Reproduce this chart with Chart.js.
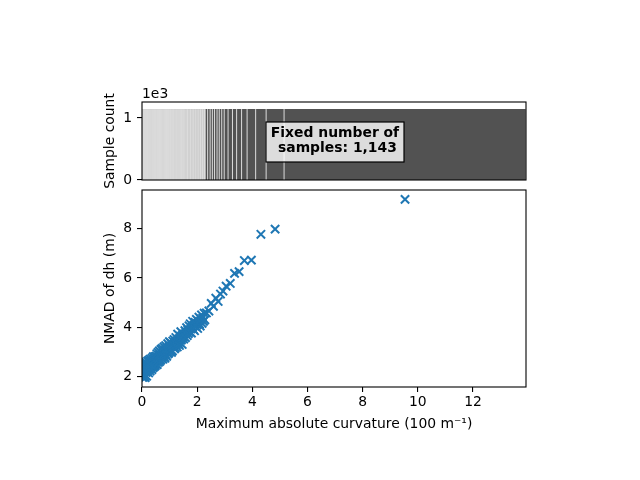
<!DOCTYPE html>
<html>
<head>
<meta charset="utf-8">
<script src="https://cdn.jsdelivr.net/npm/chart.js@4.4.0/dist/chart.umd.min.js"></script>
<style>
  html, body { margin: 0; padding: 0; background: #fff; }
  .panel { position: absolute; left: 0; top: 0; width: 640px; height: 480px; }
</style>
</head>
<body>
<div class="panel"><canvas id="countChart" width="640" height="480"></canvas></div>
<div class="panel"><canvas id="nmadChart" width="640" height="480"></canvas></div>
<script>
// bin edges of maximum absolute curvature (100 m-1), fixed-count binning
const binEdges = [
  0, 0.008, 0.017, 0.025, 0.034, 0.043, 0.051, 0.060, 0.069, 0.077,
  0.086, 0.095, 0.104, 0.112, 0.121, 0.130, 0.139, 0.147, 0.156, 0.165,
  0.174, 0.183, 0.192, 0.200, 0.209, 0.218, 0.227, 0.236, 0.245, 0.254,
  0.263, 0.272, 0.281, 0.290, 0.299, 0.308, 0.317, 0.326, 0.335, 0.344,
  0.353, 0.362, 0.371, 0.380, 0.389, 0.398, 0.407, 0.416, 0.425, 0.434,
  0.443, 0.452, 0.461, 0.470, 0.480, 0.490, 0.500,
  0.511, 0.522, 0.533, 0.544, 0.556, 0.567, 0.578, 0.590, 0.601, 0.613,
  0.624, 0.636, 0.647, 0.659, 0.671, 0.682, 0.694, 0.706, 0.718, 0.730,
  0.742, 0.754, 0.766, 0.778, 0.790, 0.802, 0.814, 0.827, 0.839, 0.851,
  0.864, 0.876, 0.889, 0.901, 0.914, 0.926, 0.939, 0.952, 0.964, 0.977,
  0.989, 1.002,
  1.017, 1.032, 1.047, 1.063, 1.078, 1.094, 1.109, 1.125, 1.141, 1.156,
  1.172, 1.188, 1.204, 1.220, 1.236, 1.252, 1.268, 1.284, 1.300, 1.317,
  1.333, 1.349, 1.366, 1.382, 1.399, 1.415, 1.432, 1.449, 1.466, 1.483,
  1.502,
  1.523, 1.544, 1.565, 1.586, 1.607, 1.628, 1.650, 1.671, 1.693, 1.715,
  1.737, 1.759, 1.781, 1.803, 1.825, 1.847, 1.870, 1.892, 1.915, 1.937,
  1.960, 1.983, 2.006, 2.029, 2.052, 2.075, 2.098, 2.122, 2.145, 2.169,
  2.193, 2.217, 2.241, 2.265, 2.29,
  2.38, 2.47, 2.55, 2.63, 2.72, 2.80, 2.89, 2.98, 3.12, 3.28,
  3.43, 3.61, 3.81, 4.12, 4.50, 5.15, 13.92
];

// samples per bin (fixed number)
const binCounts = [
  1143, 1143, 1143, 1143, 1143, 1143, 1143, 1143, 1143, 1143,
  1143, 1143, 1143, 1143, 1143, 1143, 1143, 1143, 1143, 1143,
  1143, 1143, 1143, 1143, 1143, 1143, 1143, 1143, 1143, 1143,
  1143, 1143, 1143, 1143, 1143, 1143, 1143, 1143, 1143, 1143,
  1143, 1143, 1143, 1143, 1143, 1143, 1143, 1143, 1143, 1143,
  1143, 1143, 1143, 1143, 1143, 1143, 1143, 1143, 1143, 1143,
  1143, 1143, 1143, 1143, 1143, 1143, 1143, 1143, 1143, 1143,
  1143, 1143, 1143, 1143, 1143, 1143, 1143, 1143, 1143, 1143,
  1143, 1143, 1143, 1143, 1143, 1143, 1143, 1143, 1143, 1143,
  1143, 1143, 1143, 1143, 1143, 1143, 1143, 1143, 1143, 1143,
  1143, 1143, 1143, 1143, 1143, 1143, 1143, 1143, 1143, 1143,
  1143, 1143, 1143, 1143, 1143, 1143, 1143, 1143, 1143, 1143,
  1143, 1143, 1143, 1143, 1143, 1143, 1143, 1143, 1143, 1143,
  1143, 1143, 1143, 1143, 1143, 1143, 1143, 1143, 1143, 1143,
  1143, 1143, 1143, 1143, 1143, 1143, 1143, 1143, 1143, 1143,
  1143, 1143, 1143, 1143, 1143, 1143, 1143, 1143, 1143, 1143,
  1143, 1143, 1143, 1143, 1143, 1143, 1143, 1143, 1143, 1143,
  1143, 1143, 1143, 1143, 1143, 1143, 1143, 1143, 1143, 1143,
  1143
];

// NMAD of dh (m) per bin
const nmadValues = [
  2.02, 2.28, 1.96, 2.41, 2.12, 2.50, 1.97, 2.35, 2.19, 2.55,
  2.00, 2.44, 2.24, 1.95, 2.36, 2.58, 2.16, 2.47, 2.29, 2.01,
  2.52, 2.33, 2.20, 2.62, 2.40, 2.26, 2.48, 2.14, 2.66, 2.37,
  2.30, 2.56, 2.43, 2.22, 2.70, 2.46, 2.34, 2.60, 2.39, 2.51,
  2.28, 2.74, 2.49, 2.41, 2.64, 2.36, 2.80, 2.53, 2.45, 2.68,
  2.40, 2.59, 2.80, 2.50, 2.44, 2.72,
  2.52, 2.83, 2.60, 2.92, 2.48, 2.77, 2.66, 2.98, 2.57, 2.86,
  2.70, 3.04, 2.61, 2.90, 2.79, 2.66, 3.10, 2.85, 2.72, 2.95,
  3.14, 2.78, 2.70, 3.02, 2.89, 3.20, 2.80, 2.97, 2.74, 3.08,
  3.25, 2.88, 3.01, 2.82, 3.16, 3.00, 3.33, 2.92, 3.12, 2.96,
  3.22, 3.41,
  3.01, 3.22, 3.09, 3.35, 2.98, 3.28, 3.04, 3.44, 3.19, 3.31,
  3.50, 3.12, 3.37, 3.17, 3.58, 3.29, 3.45, 3.20, 3.72, 3.40,
  3.32, 3.53, 3.26, 3.37, 3.64, 3.82, 3.48, 3.56, 3.30, 3.69,
  3.60,
  3.52, 3.72, 3.86, 3.58, 3.79, 3.98, 3.66, 3.90, 3.74, 4.06,
  3.80, 4.14, 3.93, 3.76, 4.01, 4.24, 3.92, 4.09, 3.86, 4.20,
  4.03, 4.32, 4.10, 3.95, 4.24, 4.41, 4.13, 4.05, 4.33, 4.50,
  4.16, 4.38, 4.24, 4.57, 4.30,
  4.58, 4.66, 4.97, 4.85, 5.18, 5.05, 5.35, 5.47, 5.67, 5.78,
  6.19, 6.26, 6.71, 6.73, 7.78, 7.99, 9.20
];

const xTicks = [0, 2, 4, 6, 8, 10, 12];
const nmadTicks = [2, 4, 6, 8];
const countTicks = [0, 1000];

const X_MAX = 13.92;
const PLOT_WIDTH = 384;

Chart.defaults.font.family = "'DejaVu Sans', sans-serif";
Chart.defaults.font.size = 13.9;
Chart.defaults.color = "#000";

// full box around the plot area
const framePlugin = {
  id: "frame",
  afterDatasetsDraw(chart) {
    const { ctx, chartArea: a } = chart;
    ctx.save();
    ctx.strokeStyle = "#000";
    ctx.lineWidth = 1.1;
    ctx.strokeRect(a.left, a.top, a.right - a.left, a.bottom - a.top);
    ctx.restore();
  },
};

// "1e3" offset label and the fixed-count text box
const countNotes = {
  id: "countNotes",
  afterDraw(chart) {
    const { ctx, chartArea: a } = chart;
    ctx.save();
    ctx.font = "13.9px 'DejaVu Sans'";
    ctx.fillStyle = "#000";
    ctx.textAlign = "left";
    ctx.textBaseline = "alphabetic";
    ctx.fillText("1e3", a.left, a.top - 4);

    const cx = (a.left + a.right) / 2 + 1;
    const cy = (a.top + a.bottom) / 2 + 1;
    ctx.fillStyle = "rgba(255,255,255,0.8)";
    ctx.strokeStyle = "#000";
    ctx.lineWidth = 1.2;
    ctx.fillRect(cx - 69, cy - 20, 138, 40);
    ctx.strokeRect(cx - 69, cy - 20, 138, 40);
    ctx.fillStyle = "#000";
    ctx.font = "bold 13.9px 'DejaVu Sans'";
    ctx.textAlign = "center";
    ctx.fillText("Fixed number of", cx, cy - 5);
    ctx.fillText(" samples: 1,143", cx, cy + 10);
    ctx.restore();
  },
};

// histogram: stepped fill plus white bin edges
const fillPoints = binEdges.map((e, i) => ({
  x: e,
  y: binCounts[Math.min(i, binCounts.length - 1)],
}));
const edgePoints = [];
const edgeGaps = [];
binEdges.forEach((e, i) => {
  const c = binCounts[Math.min(i, binCounts.length - 1)];
  edgePoints.push({ x: e, y: 0 }, { x: e, y: c }, { x: e, y: null });
  const next = binEdges[Math.min(i + 1, binEdges.length - 1)];
  const prev = binEdges[Math.max(i - 1, 0)];
  edgeGaps.push(Math.max(next - e, e - prev));
});

// thin edges packed close together blend to light grey, as in the original
function edgeWidth(sc) {
  const gapPx = edgeGaps[Math.floor(sc.p0DataIndex / 3)] * PLOT_WIDTH / X_MAX;
  if (gapPx > 1.5) return 0.8;
  return Math.min(0.8, Math.max(0.25, 1 - Math.pow(0.18, gapPx)));
}

new Chart(document.getElementById("countChart"), {
  type: "line",
  data: {
    datasets: [
      {
        data: fillPoints,
        order: 1,
        stepped: "before",
        fill: "origin",
        backgroundColor: "#525252",
        borderWidth: 0,
        pointRadius: 0,
      },
      {
        data: edgePoints,
        order: 0,
        borderColor: "#fff",
        borderWidth: 0.8,
        segment: { borderWidth: edgeWidth },
        pointRadius: 0,
        fill: false,
      },
    ],
  },
  options: {
    responsive: false,
    animation: false,
    events: [],
    layout: { padding: { left: 100, right: 114, top: 102, bottom: 300 } },
    plugins: { legend: { display: false }, tooltip: { enabled: false } },
    scales: {
      x: {
        type: "linear",
        display: false,
        min: 0,
        max: X_MAX,
      },
      y: {
        min: 0,
        max: 1257,
        afterFit: (s) => { s.width = 42; },
        afterBuildTicks: (s) => { s.ticks = countTicks.map((v) => ({ value: v })); },
        border: { display: false },
        grid: { drawOnChartArea: false, drawTicks: true, tickLength: 5, color: "#000", lineWidth: 1.1 },
        ticks: { padding: 5, callback: (v) => v / 1000 },
        title: { display: true, text: "Sample count", padding: 2 },
      },
    },
  },
  plugins: [framePlugin, countNotes],
});

const scatterPoints = nmadValues.map((v, i) => ({
  x: (binEdges[i] + binEdges[i + 1]) / 2,
  y: v,
}));

new Chart(document.getElementById("nmadChart"), {
  type: "scatter",
  data: {
    datasets: [
      {
        data: scatterPoints,
        pointStyle: "crossRot",
        pointRadius: 5.9,
        borderColor: "#1f77b4",
        backgroundColor: "#1f77b4",
        pointBorderWidth: 2,
        clip: 0,
      },
    ],
  },
  options: {
    responsive: false,
    animation: false,
    events: [],
    layout: { padding: { left: 100, right: 114, top: 190, bottom: 43 } },
    plugins: { legend: { display: false }, tooltip: { enabled: false } },
    scales: {
      x: {
        type: "linear",
        min: 0,
        max: X_MAX,
        afterFit: (s) => { s.height = 50; },
        afterBuildTicks: (s) => { s.ticks = xTicks.map((v) => ({ value: v })); },
        border: { display: false },
        grid: { drawOnChartArea: false, drawTicks: true, tickLength: 5, color: "#000", lineWidth: 1.1 },
        ticks: { padding: 2, maxRotation: 0, autoSkip: false },
        title: { display: true, text: "Maximum absolute curvature (100 m\u207B\u00B9)", padding: 4 },
      },
      y: {
        min: 1.57,
        max: 9.58,
        afterFit: (s) => { s.width = 42; },
        afterBuildTicks: (s) => { s.ticks = nmadTicks.map((v) => ({ value: v })); },
        border: { display: false },
        grid: { drawOnChartArea: false, drawTicks: true, tickLength: 5, color: "#000", lineWidth: 1.1 },
        ticks: { padding: 5 },
        title: { display: true, text: "NMAD of dh (m)", padding: 2 },
      },
    },
  },
  plugins: [framePlugin],
});
</script>
</body>
</html>
